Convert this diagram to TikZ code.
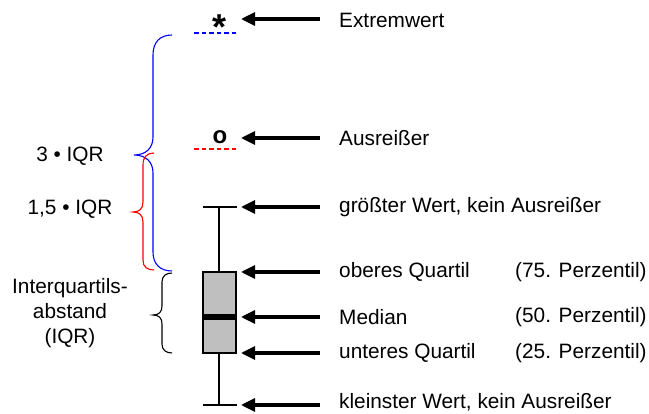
\documentclass[tikz,border=0pt]{standalone}
\usepackage{fontspec}
\setmainfont{Liberation Sans}
\usetikzlibrary{arrows.meta}
\begin{document}
\begin{tikzpicture}[x=1pt,y=-1pt,
  lbl/.style={anchor=west,inner sep=0pt,font=\fontsize{20.8}{25}\selectfont},
  leftlbl/.style={inner sep=0pt,align=center,font=\fontsize{20.8}{25}\selectfont},
  arr/.style={line width=3.2pt,-{Triangle[length=14pt,width=13pt]}},
  whisk/.style={line width=2.8pt},
  brc/.style={line width=1.1pt}
]
\useasboundingbox (0,0) rectangle (649,414);
% symbols
\node[inner sep=0pt,font=\fontsize{36}{36}\selectfont\bfseries] (star) at (220,27) {*};
\node[inner sep=0pt,font=\fontsize{24}{24}\selectfont\bfseries] (circ) at (220,137) {o};
\draw[blue,line width=2pt,dash pattern=on 4.5pt off 3pt] (194,33) -- (237,33);
\draw[red,line width=2pt,dash pattern=on 4.5pt off 3pt] (194,149) -- (237,149);
% box plot
\coordinate (wt) at (219,207);
\coordinate (wb) at (219,405);
\draw[whisk] (203,207) -- (237,207);
\draw[whisk] (203,405) -- (237,405);
\draw[whisk] (wt) -- (219,272);
\draw[whisk] (219,353) -- (wb);
\node[draw,line width=2.6pt,fill=black!25,minimum width=33pt,minimum height=81pt,inner sep=0pt] (box) at (219.5,312.5) {};
\draw[line width=6pt] (203,317) -- (236,317);
% arrows
\foreach \n/\y in {a/19,b/138,c/207,d/272,e/317,f/353,g/405}{
  \coordinate (s\n) at (320,\y);
  \coordinate (e\n) at (241,\y);
  \draw[arr] (s\n) -- (e\n);
}
% labels
\node[lbl] (t1) at (339,20) {Extremwert};
\node[lbl] (t2) at (339,138) {Ausreißer};
\node[lbl] (t3) at (339,207) {größter Wert, kein Ausreißer};
\node[lbl] (t4) at (339,272) {oberes Quartil};
\node[lbl] (t5) at (339,317) {Median};
\node[lbl] (t6) at (339,353) {unteres Quartil};
\node[lbl] (t7) at (339,402) {kleinster Wert, kein Ausreißer};
\node[lbl] (p4) at (515,272) {(75. Perzentil)};
\node[lbl] (p5) at (515,317) {(50. Perzentil)};
\node[lbl] (p6) at (515,353) {(25. Perzentil)};
% left labels
\node[leftlbl] (l1) at (70,156) {3 • IQR};
\node[leftlbl] (l2) at (70,209) {1,5 • IQR};
\node[leftlbl] (l3) at (70,313) {Interquartils-\\abstand\\(IQR)};
% braces
\draw[blue,brc] (172,35) .. controls (160,35) and (153,42) .. (153,55) -- (153,137)
  .. controls (153,148) and (146,155) .. (134,155)
  .. controls (146,155) and (153,162) .. (153,173) -- (153,252)
  .. controls (153,264) and (160,271) .. (172,271);
\draw[red,brc] (154,153) .. controls (147,153) and (143,157) .. (143,165) -- (143,202)
  .. controls (143,209) and (139,212) .. (133,212)
  .. controls (139,212) and (143,215) .. (143,222) -- (143,260)
  .. controls (143,267) and (147,270) .. (154,270);
\draw[black,brc] (172,273) .. controls (166,273) and (162,276) .. (162,282) -- (162,306)
  .. controls (162,312) and (159,315) .. (153,315)
  .. controls (159,315) and (162,318) .. (162,324) -- (162,344)
  .. controls (162,350) and (166,353) .. (172,353);
\end{tikzpicture}
\end{document}
